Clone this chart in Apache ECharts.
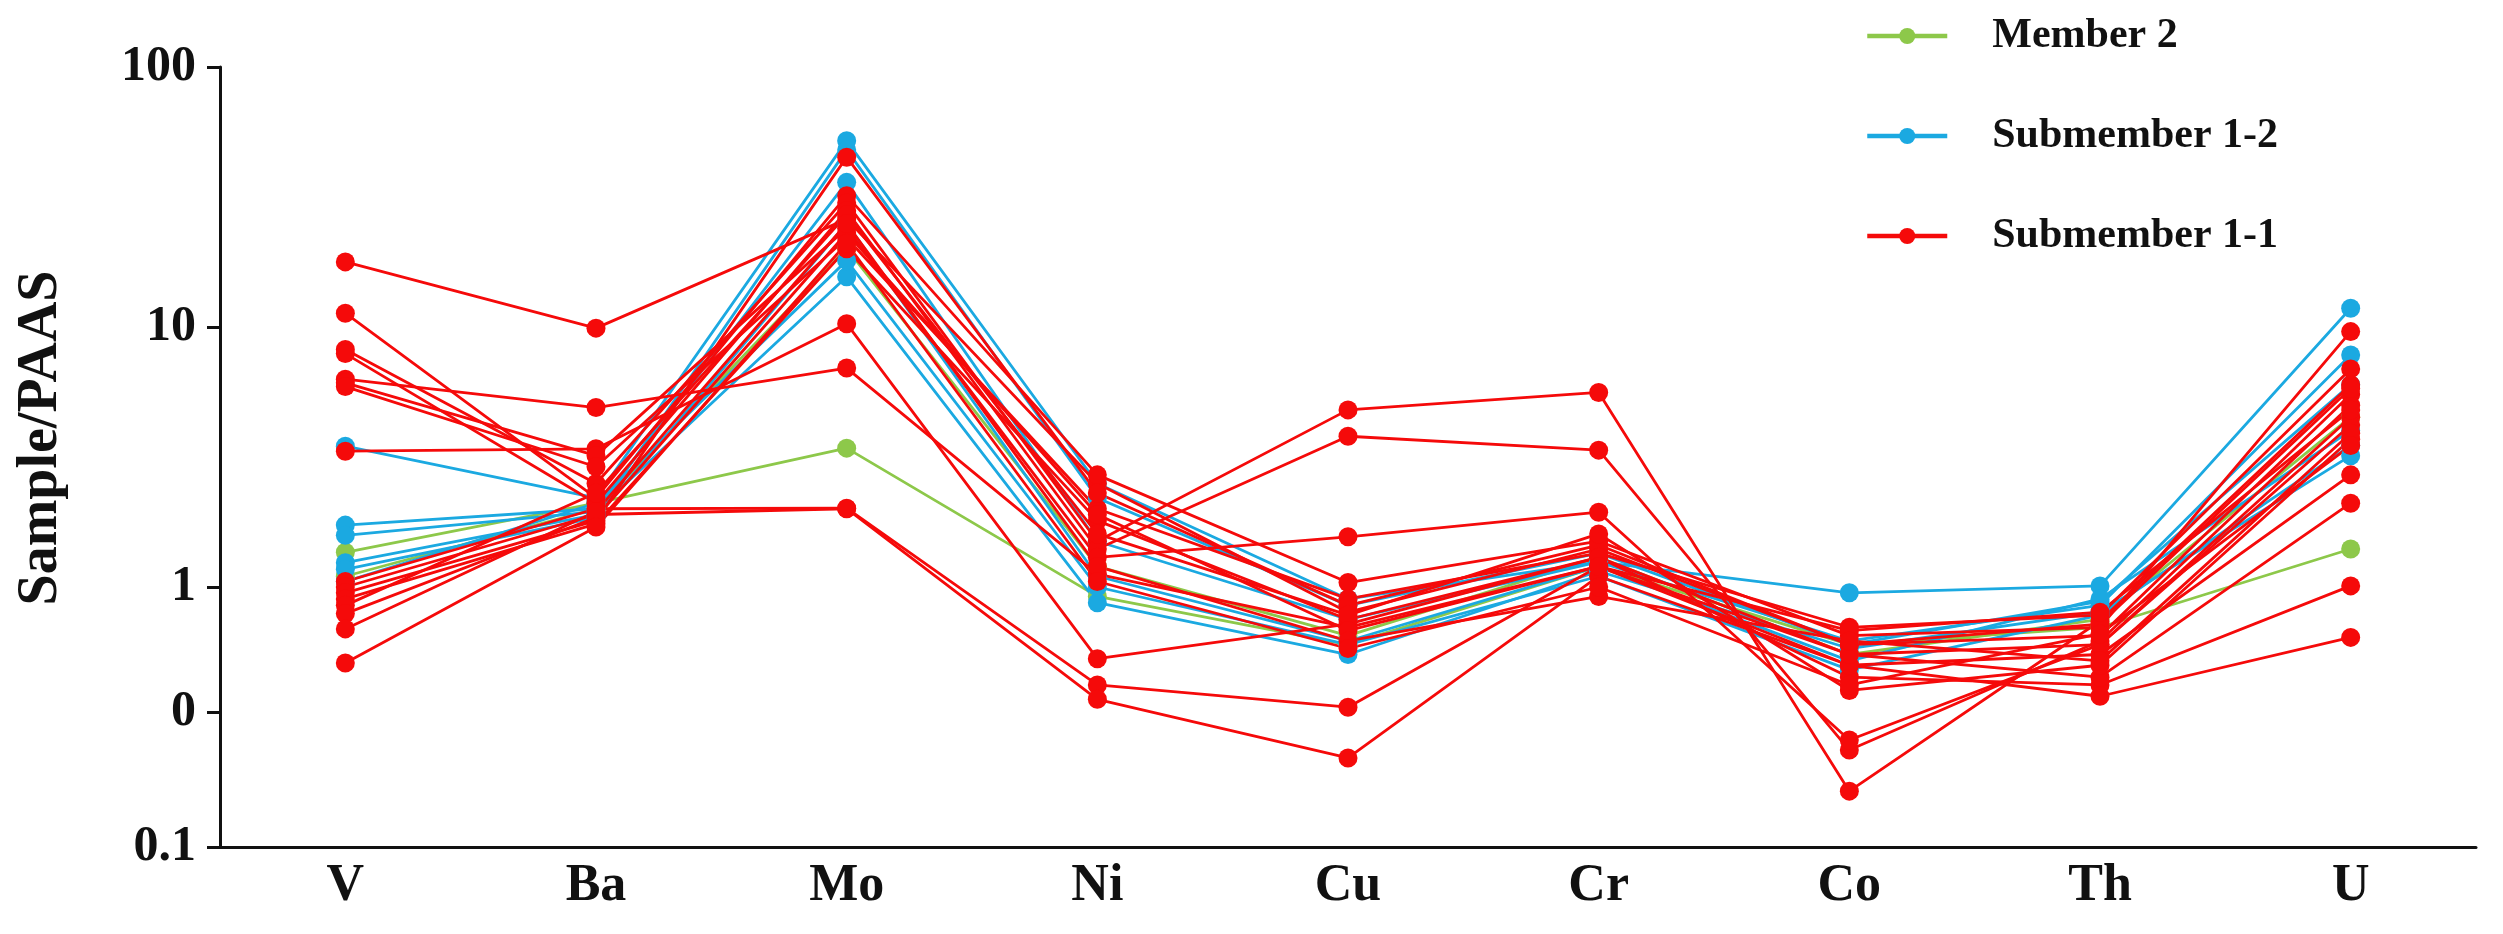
<!DOCTYPE html>
<html>
<head>
<meta charset="utf-8">
<script src="https://cdn.jsdelivr.net/npm/echarts@6/dist/echarts.min.js"></script>
<style>
  html, body { margin: 0; padding: 0; background: #fff; }
  #chart { width: 2503px; height: 934px; }
</style>
</head>
<body>
<div id="chart"></div>
<script>
// elements on the x axis
const elements = ['V', 'Ba', 'Mo', 'Ni', 'Cu', 'Cr', 'Co', 'Th', 'U'];

// Member 2 samples (Sample/PAAS)
const member2 = [
    [1.36, 2.1, 3.42, 0.92, 0.6, 1.2, 0.6, 0.7, 1.4],
    [1.1, 2.0, 20, 1.2, 0.65, 1.3, 0.55, 0.75, 4.5]
];

// Submember 1-2 samples
const submember12 = [
    [3.48, 2.2, 52, 2.5, 0.9, 1.25, 0.95, 1.01, 11.8],
    [1.73, 2.0, 36, 1.5, 0.75, 1.25, 0.62, 0.85, 7.8],
    [1.58, 1.95, 15.6, 0.87, 0.55, 1.15, 0.58, 0.8, 3.2],
    [1.24, 1.9, 48, 2.2, 0.85, 1.35, 0.6, 0.88, 6.0],
    [1.17, 1.85, 25, 1.1, 0.62, 1.2, 0.52, 0.9, 4.0],
    [1.05, 2.1, 18, 1.0, 0.6, 1.1, 0.48, 0.78, 3.5]
];

// Submember 1-1 samples
const submember11 = [
    [17.8, 9.9, 26, 2.5, 0.8, 1.4, 0.6, 0.65, 5.5],
    [6.3, 4.9, 6.95, 1.12, 0.7, 1.2, 0.5, 0.55, 2.7],
    [3.33, 3.4, 10.3, 0.53, 0.72, 1.3, 0.45, 0.42, 1.01],
    [11.3, 2.2, 32, 2.7, 1.04, 1.5, 0.65, 0.7, 9.6],
    [8.2, 2.5, 30, 1.5, 4.8, 5.6, 0.164, 0.74, 6.0],
    [7.9, 2.1, 28, 1.4, 3.8, 3.36, 0.236, 0.62, 5.0],
    [6.1, 3.2, 24, 1.3, 1.56, 1.94, 0.258, 0.6, 4.5],
    [5.9, 2.9, 22, 2.0, 0.9, 1.35, 0.7, 0.78, 6.9],
    [1.05, 2.0, 2.01, 0.42, 0.345, 1.2, 0.55, 0.45, 2.1],
    [1.0, 1.9, 2.0, 0.37, 0.22, 1.1, 0.5, 0.38, 0.64],
    [0.95, 1.8, 45, 2.3, 0.85, 1.45, 0.6, 0.72, 5.8],
    [0.9, 1.75, 20, 1.8, 0.75, 1.3, 0.55, 0.6, 4.2],
    [0.85, 2.3, 27, 1.6, 0.78, 1.6, 0.4, 0.5, 3.7],
    [0.79, 1.85, 23, 1.9, 0.68, 1.2, 0.68, 0.8, 4.8],
    [0.69, 1.95, 25, 1.2, 0.62, 0.92, 0.62, 0.52, 3.9],
    [0.51, 1.7, 21, 1.05, 0.58, 1.0, 0.42, 0.66, 3.5]
];

// the odd extra tick on the y axis, printed as "0" in the original
const extraTickValues = [0.33];
const extraTickLabels = ['0'];

const groups = [
    { name: 'Member 2', color: '#8dc84a', rows: member2 },
    { name: 'Submember 1-2', color: '#1ba9e1', rows: submember12 },
    { name: 'Submember 1-1', color: '#f50a0a', rows: submember11 }
];

const font = "'Times New Roman', 'Liberation Serif', serif";

const series = [];
groups.forEach(g => {
    g.rows.forEach(row => {
        series.push({
            name: g.name,
            type: 'line',
            yAxisIndex: 0,
            data: row,
            symbol: 'circle',
            symbolSize: 19,
            itemStyle: { color: g.color },
            lineStyle: { color: g.color, width: 2.8 },
            emphasis: { disabled: true }
        });
    });
});

const chart = echarts.init(document.getElementById('chart'));
chart.setOption({
    animation: false,
    backgroundColor: '#fff',
    grid: { left: 220, right: 27, top: 67, bottom: 87 },
    legend: {
        data: groups.map(g => g.name),
        orient: 'vertical',
        left: 1860,
        top: 10,
        itemWidth: 80,
        itemHeight: 20,
        itemGap: 58,
        lineStyle: { width: 4.5 },
        textStyle: {
            fontFamily: font,
            fontWeight: 'bold',
            fontSize: 42,
            color: '#111',
            padding: [0, 0, 0, 40]
        }
    },
    xAxis: {
        type: 'category',
        data: elements,
        boundaryGap: true,
        axisLine: { onZero: false, lineStyle: { color: '#111', width: 3 } },
        axisTick: { inside: true, length: 6, lineStyle: { color: '#111', width: 3 } },
        axisLabel: {
            fontFamily: font,
            fontWeight: 'bold',
            fontSize: 52,
            color: '#111',
            margin: 14
        },
        splitLine: { show: false }
    },
    yAxis: [
        {
            type: 'log',
            logBase: 10,
            min: 0.1,
            max: 100,
            name: 'Sample/PAAS',
            nameLocation: 'middle',
            nameRotate: 90,
            nameGap: 150,
            nameTextStyle: {
                fontFamily: font,
                fontWeight: 'bold',
                fontSize: 56,
                color: '#111',
                padding: [0, 0, 0, 38]
            },
            axisLine: { show: true, lineStyle: { color: '#111', width: 3 } },
            axisTick: { show: true, length: 13, lineStyle: { color: '#111', width: 3 } },
            axisLabel: {
                fontFamily: font,
                fontWeight: 'bold',
                fontSize: 50,
                color: '#111',
                margin: 24
            },
            splitLine: { show: false }
        },
        {
            // overlay axis in log10 space, only for the extra tick
            type: 'value',
            min: -1,
            max: 2,
            position: 'left',
            axisLine: { show: false },
            axisTick: {
                show: true,
                length: 13,
                customValues: extraTickValues.map(v => Math.log10(v)),
                lineStyle: { color: '#111', width: 3 }
            },
            axisLabel: {
                customValues: extraTickValues.map(v => Math.log10(v)),
                formatter: (val) => {
                    const i = extraTickValues.findIndex(v => Math.abs(Math.log10(v) - val) < 1e-6);
                    return i >= 0 ? extraTickLabels[i] : '';
                },
                fontFamily: font,
                fontWeight: 'bold',
                fontSize: 50,
                color: '#111',
                margin: 24
            },
            splitLine: { show: false }
        }
    ],
    series: series
});

window.addEventListener('resize', () => chart.resize());
</script>
</body>
</html>
